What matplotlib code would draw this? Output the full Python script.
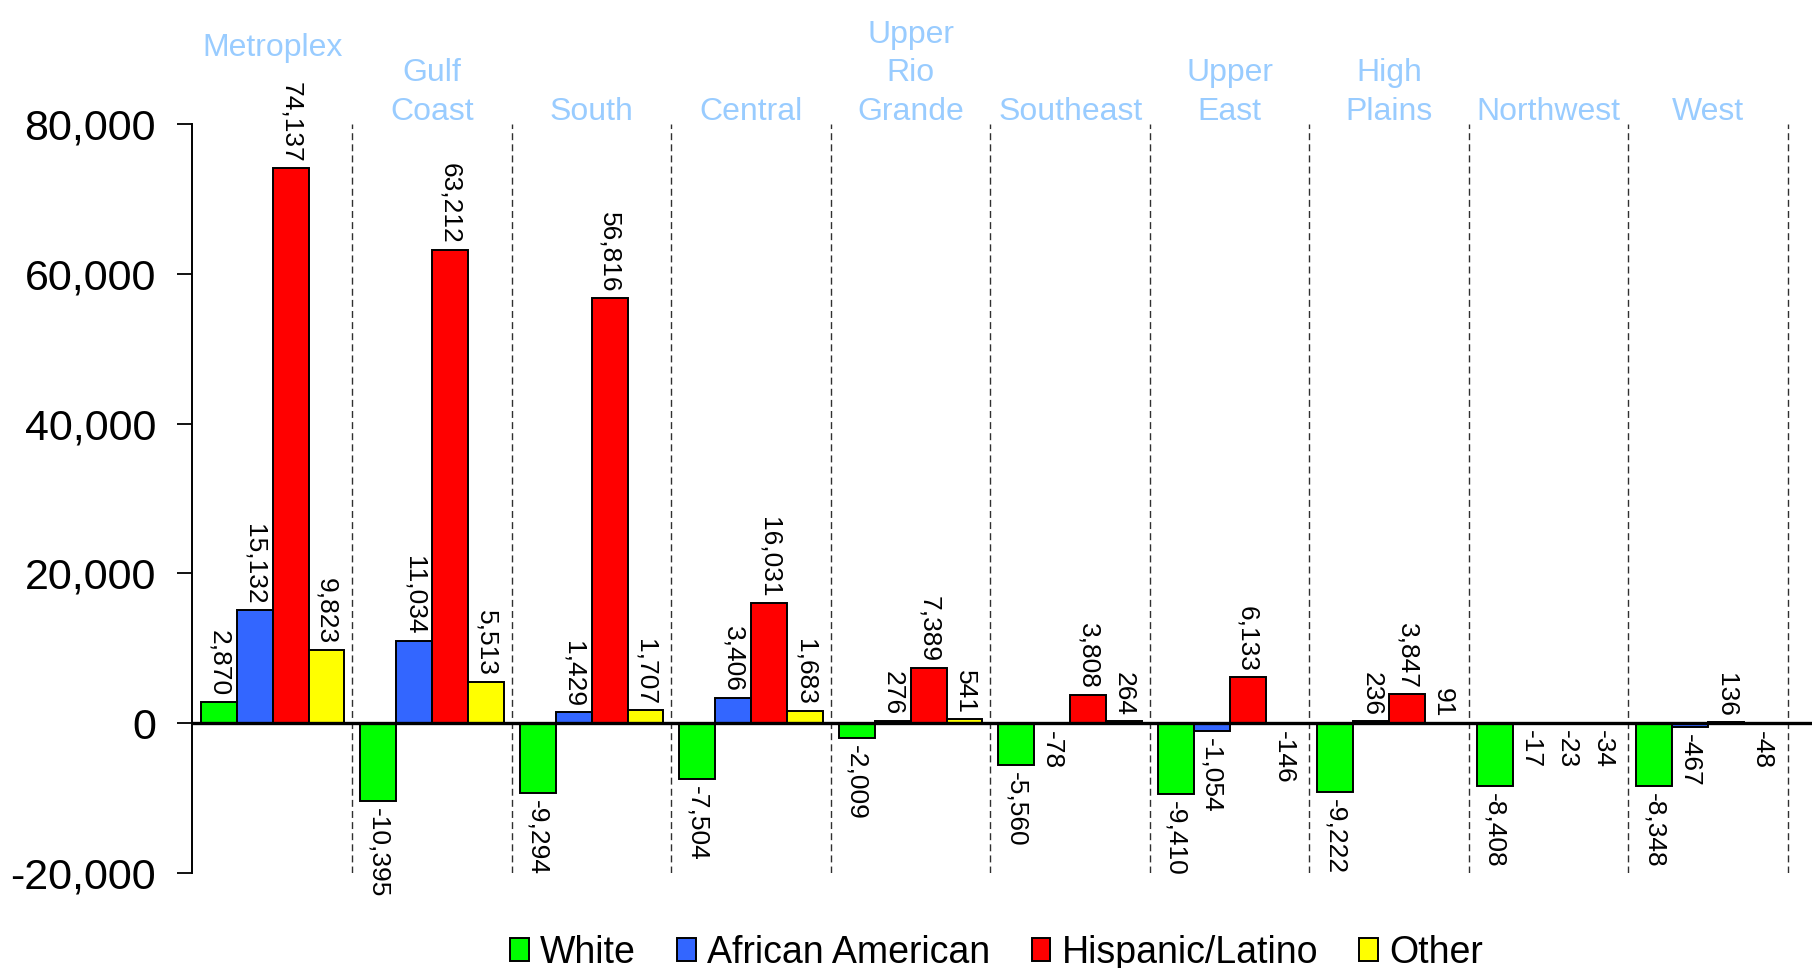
import matplotlib
matplotlib.use("Agg")
import matplotlib.pyplot as plt
import matplotlib.transforms as mtransforms
from matplotlib.patches import Patch
import numpy as np

regions = ["Metroplex", "Gulf\nCoast", "South", "Central", "Upper\nRio\nGrande",
           "Southeast", "Upper\nEast", "High\nPlains", "Northwest", "West"]
series_names = ["White", "African American", "Hispanic/Latino", "Other"]
white = [2870, -10395, -9294, -7504, -2009, -5560, -9410, -9222, -8408, -8348]
african_american = [15132, 11034, 1429, 3406, 276, -78, -1054, 236, -17, -467]
hispanic = [74137, 63212, 56816, 16031, 7389, 3808, 6133, 3847, -23, 136]
other = [9823, 5513, 1707, 1683, 541, 264, -146, 91, -34, -48]
yticks = [-20000, 0, 20000, 40000, 60000, 80000]

series = [white, african_american, hispanic, other]
colors = ["#00FF00", "#3366FF", "#FF0000", "#FFFF00"]

plt.rcParams['font.family'] = ['Liberation Sans', 'DejaVu Sans']

fig = plt.figure(figsize=(18.12, 9.68), dpi=100)
ax = fig.add_axes([192/1812, 1 - 873/968, 1 - 192/1812, (873 - 124)/968])

n = len(regions)
x = np.arange(n)
bw = 0.225
offsets = (np.arange(4) - 1.5) * bw

for s, (vals, col) in enumerate(zip(series, colors)):
    xs = x + offsets[s]
    ax.bar(xs, vals, width=bw, color=col, edgecolor='black', linewidth=1.4, zorder=3)
    for xi, v in zip(xs, vals):
        if v >= 0:
            ax.annotate(f"{v:,}", (xi, v), xytext=(0, 4), textcoords='offset points',
                        rotation=270, ha='center', va='bottom', fontsize=19, zorder=5,
                        annotation_clip=False)
        else:
            ax.annotate(f"{v:,}", (xi, v), xytext=(0, -5), textcoords='offset points',
                        rotation=270, ha='center', va='top', fontsize=19, zorder=5,
                        annotation_clip=False)

ax.set_ylim(-20000, 80000)
ax.set_xlim(-0.506, 9.651)

for d in np.arange(n) + 0.5:
    ax.axvline(d, color='#303030', linewidth=1.0, linestyle=(0, (5, 3)), zorder=1)

ax.axhline(0, color='black', linewidth=2.4, zorder=4)

# group labels above plot
trans = mtransforms.blended_transform_factory(ax.transData, ax.transAxes)
raise_px = [64, 0, 0, 0, 0, 0, 0, 0, 0, 0]
for xi, lab, r in zip(x, regions, raise_px):
    t = ax.text(xi, 1.0, lab, ha='center', va='bottom',
                fontsize=23, color='#99CCFF', linespacing=1.38)
    t.set_transform(trans + mtransforms.ScaledTranslation(0, (r - 3) / 100, fig.dpi_scale_trans))

ax.set_yticks(yticks)
ax.set_yticklabels([f"{v:,}" for v in yticks], fontsize=31)
ax.set_xticks([])
for sp in ['top', 'right', 'bottom']:
    ax.spines[sp].set_visible(False)
ax.spines['left'].set_linewidth(1.4)
ax.tick_params(axis='y', direction='out', length=11, width=1.3, pad=15)

handles = [Patch(facecolor=c, edgecolor='black', linewidth=1.4) for c in colors]
fig.legend(handles, series_names, loc='lower center', bbox_to_anchor=(0.55, -0.03),
           ncol=4, frameon=False, fontsize=27, handlelength=0.5, handleheight=0.6,
           handletextpad=0.3, columnspacing=1.1, borderpad=0.2)

fig.savefig("out.png", dpi=100)
